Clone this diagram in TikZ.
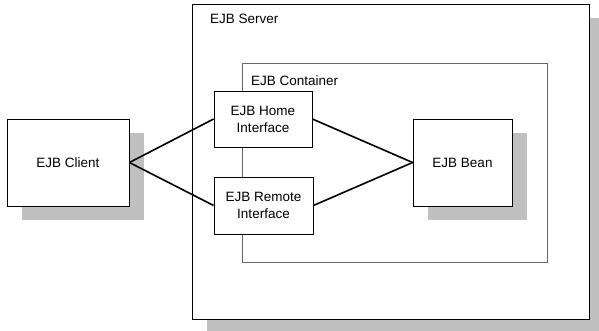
\documentclass[tikz,border=0pt]{standalone}
\usepackage{fontspec}
\setmainfont{Liberation Sans}
\usetikzlibrary{shadows}

\definecolor{shadowgray}{RGB}{192,192,192}

\tikzset{
    box/.style={draw=black, line width=0.8pt, fill=white, align=center,
        font=\fontsize{13.5}{17}\selectfont, inner sep=0pt},
    shadowbox/.style={box, drop shadow={shadow xshift=15pt, shadow yshift=-14pt,
        fill=shadowgray, opacity=1}},
    tag/.style={anchor=north west, inner sep=0pt, font=\fontsize{13.5}{17}\selectfont},
    wire/.style={line width=1.6pt}
}

\begin{document}
\begin{tikzpicture}[x=1pt, y=1pt]
    \clip (0,0) rectangle (599,-330);
    % server and container
    \node[shadowbox, minimum width=397pt, minimum height=315pt] (server) at (390.5,-161.5) {};
    \node[tag] (servertag) at (210,-14) {EJB Server};
    \node[box, draw=black!60, minimum width=305pt, minimum height=199pt] (container) at (394.5,-162.5) {};
    \node[tag] (containertag) at (251,-76) {EJB Container};
    % boxes
    \node[shadowbox, minimum width=122pt, minimum height=87pt] (client) at (68,-162.5) {EJB Client};
    \node[shadowbox, minimum width=99pt, minimum height=87pt] (bean) at (462.5,-162.5) {EJB Bean};
    \node[box, minimum width=98pt, minimum height=56pt] (home) at (263,-119) {EJB Home\\Interface};
    \node[box, minimum width=99pt, minimum height=57pt] (remote) at (263.5,-205.5) {EJB Remote\\Interface};
    % connections
    \draw[wire] (client.east) -- (home.west);
    \draw[wire] (client.east) -- (remote.west);
    \draw[wire] (home.east) -- (bean.west);
    \draw[wire] (remote.east) -- (bean.west);
\end{tikzpicture}
\end{document}
